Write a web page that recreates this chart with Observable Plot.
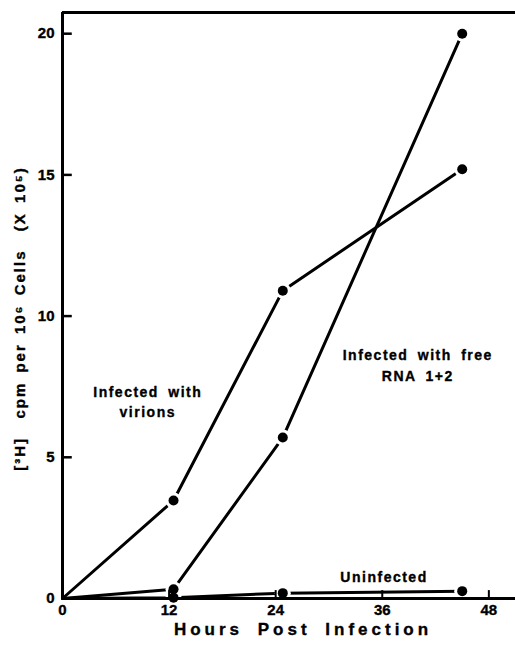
<!DOCTYPE html>
<html><head><meta charset="utf-8">
<script src="https://cdn.jsdelivr.net/npm/d3@7"></script>
<script src="https://cdn.jsdelivr.net/npm/@observablehq/plot@0.6"></script>
<style>
body{margin:0;background:#fff}
#chart svg text{font-family:"Liberation Sans",Arial,sans-serif;font-weight:bold;stroke:#000;stroke-width:0.35px}
.lbl text{letter-spacing:1.5px;word-spacing:4px}
.xl text{letter-spacing:4px;word-spacing:6px}
.yl text{letter-spacing:2px;word-spacing:3px}
</style></head><body><div id="chart"></div>
<script>
const hours = [0, 12.5, 24.8, 45];
const virions = [0, 3.47, 10.9, 15.2];
const freeRNA = [0, 0.33, 5.7, 20.0];
const uninfected = [0, 0.03, 0.19, 0.26];
const xTicks = [0, 12, 24, 36, 48];
const yTicks = [0, 5, 10, 15, 20];
const xDomain = [0, 51];
const yDomain = [0, 20.75];
const seriesNames = ["virions", "freeRNA", "uninfected"];
const seriesValues = [virions, freeRNA, uninfected];
const xLabel = "Hours Post Infection";
const yLabel = "[³H]  cpm per 10⁶ Cells  (X 10⁵)";

const rows = seriesNames.flatMap((s, i) => hours.map((h, j) => ({series: s, hour: h, value: seriesValues[i][j], idx: j})));
const dots = rows.filter(d => d.idx > 0);

const chart = Plot.plot({
  width: 515, height: 648,
  marginLeft: 62, marginTop: 12, marginBottom: 50, marginRight: 0,
  x: {domain: xDomain},
  y: {domain: yDomain},
  style: {background: "#fff", color: "#000"},
  marks: [
    Plot.line(rows, {x: "hour", y: "value", z: "series", stroke: "#000", strokeWidth: 3}),
    Plot.dot(dots, {x: "hour", y: "value", r: 8, fill: "#fff"}),
    Plot.dot(dots, {x: "hour", y: "value", r: 5, fill: "#000"}),
    Plot.ruleX([0], {strokeWidth: 3}),
    Plot.ruleY([0], {strokeWidth: 3}),
    Plot.ruleY([yDomain[1]], {strokeWidth: 3}),
    Plot.ruleY(yTicks, {x1: 0, x2: 1.1, strokeWidth: 2.5}),
    Plot.ruleX(xTicks, {y1: 0, y2: 0.28, strokeWidth: 2}),
    Plot.axisY({ticks: yTicks, tickSize: 0, tickPadding: 8, fontSize: 15, label: null}),
    Plot.axisX({ticks: xTicks, tickSize: 0, tickPadding: 6, fontSize: 15, label: null}),
    Plot.text([xLabel], {frameAnchor: "bottom", textAnchor: "middle", dy: 36, dx: 14, fontSize: 17, className: "xl"}),
    Plot.text([yLabel], {frameAnchor: "left", textAnchor: "middle", dx: -42, dy: 13, rotate: -90, fontSize: 15, className: "yl"}),
    Plot.text(["Infected with\nvirions"], {x: 9.6, y: 7.0, fontSize: 14, lineHeight: 1.45, className: "lbl"}),
    Plot.text(["Infected with free\nRNA 1+2"], {x: 40.0, y: 8.3, fontSize: 14, lineHeight: 1.45, className: "lbl"}),
    Plot.text(["Uninfected"], {x: 36.2, y: 0.74, fontSize: 14, className: "lbl"})
  ]
});
document.getElementById("chart").append(chart);
</script></body></html>
